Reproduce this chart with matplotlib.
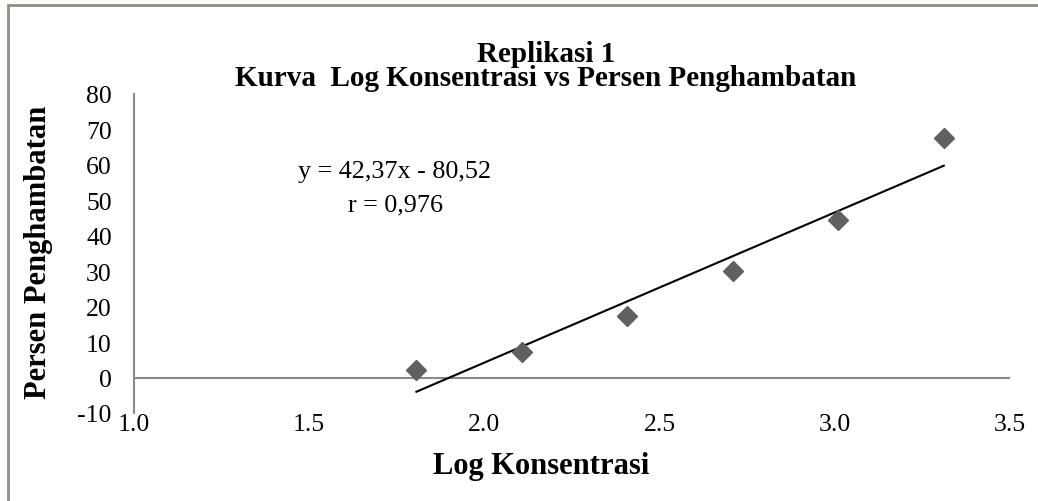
import numpy as np
import matplotlib.pyplot as plt
from matplotlib.patches import Rectangle

plt.rcParams['font.family'] = ['Liberation Serif', 'DejaVu Serif']
plt.rcParams['axes.unicode_minus'] = False

# data
log_konsentrasi = [1.806, 2.107, 2.408, 2.709, 3.010, 3.311]
persen_hambat = [2.2, 7.3, 17.4, 30.1, 44.4, 67.6]
slope, intercept = 42.37, -80.52
x_ticks = [1.0, 1.5, 2.0, 2.5, 3.0, 3.5]
y_ticks = [-10, 0, 10, 20, 30, 40, 50, 60, 70, 80]

fig = plt.figure(figsize=(10.38, 5.02), dpi=100)
fig.patch.set_facecolor('#fdfcf6')
# chart area with grey border (left and top edges visible)
fig.patches.append(Rectangle((8/1038, -0.05), 1.1, 1 - 6/502 + 0.05,
                             transform=fig.transFigure, facecolor='white',
                             edgecolor='#8c8c8c', linewidth=2, zorder=0))

ax = fig.add_axes([134/1038, 1 - 414/502, 876/1038, 319/502])
ax.set_facecolor('none')
ax.set_zorder(2)

xs = np.array([log_konsentrasi[0], log_konsentrasi[-1]])
ax.plot(xs, slope * xs + intercept, color='black', lw=1.5, zorder=3)
ax.plot(log_konsentrasi, persen_hambat, 'D', color='#606060', ms=10.5,
        mec='#606060', zorder=4, clip_on=False)

ax.axhline(0, color='#8a8a8a', lw=1.5, zorder=1)
ax.set_xlim(1.0, 3.5)
ax.set_ylim(-10, 80)
ax.set_xticks(x_ticks)
ax.set_xticklabels(['%.1f' % v for v in x_ticks])
ax.set_yticks(y_ticks)
for s in ['top', 'right', 'bottom']:
    ax.spines[s].set_visible(False)
ax.spines['left'].set_color('#8a8a8a')
ax.spines['left'].set_linewidth(1.5)
ax.tick_params(length=0, labelsize=18.5, colors='black')
ax.tick_params(axis='y', pad=16)
ax.tick_params(axis='x', pad=0)

# two-line title as one text
fig.text(546/1038, 1 - 86/502,
         'Replikasi 1\nKurva  Log Konsentrasi vs Persen Penghambatan',
         ha='center', va='baseline', multialignment='center', linespacing=0.85,
         fontsize=21, fontweight='bold', zorder=3)
fig.text(39/1038, 1 - 252/502, 'Persen Penghambatan', rotation=90,
         ha='center', va='center', fontsize=22, fontweight='bold', zorder=3)
fig.text(541/1038, 1 - 467/502, 'Log Konsentrasi', ha='center', va='center',
         fontsize=22, fontweight='bold', zorder=3)

fig.text(395/1038, 1 - 172/502, 'y = 42,37x - 80,52', ha='center', va='center',
         fontsize=18.8, zorder=3)
fig.text(395/1038, 1 - 205/502, 'r = 0,976', ha='center', va='center',
         fontsize=18.8, zorder=3)

fig.savefig('out.png', dpi=100, facecolor=fig.get_facecolor())
